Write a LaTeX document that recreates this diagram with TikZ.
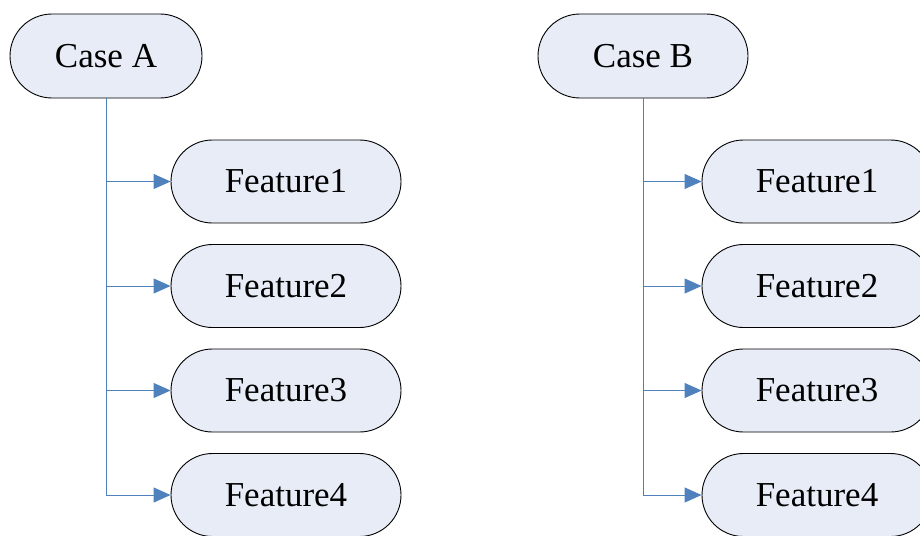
\documentclass[tikz,border=0pt]{standalone}
\usepackage{fontspec}
\setmainfont{Liberation Serif}
\usetikzlibrary{shapes.misc,arrows.meta}
\definecolor{boxfill}{RGB}{231,236,247}
\definecolor{linkblue}{RGB}{79,129,189}
\begin{document}
\begin{tikzpicture}[x=1pt,y=-1pt,
  basebox/.style={rounded rectangle, draw=black, line width=0.9pt, fill=boxfill,
    inner sep=0pt, font=\fontsize{35}{42}\selectfont},
  casebox/.style={basebox, minimum height=84pt},
  featbox/.style={basebox, minimum width=230pt, minimum height=83pt},
  link/.style={draw=linkblue, line width=1pt},
  arr/.style={link, -{Triangle[length=17pt,width=15pt]}}]
\useasboundingbox (0,0) rectangle (920,535);
\clip (0,0) rectangle (920,535);
% Case A
\node[casebox, minimum width=192pt] (caseA) at (106,56) {Case A};
\node[featbox] (fA1) at (286,181.5) {Feature1};
\node[featbox] (fA2) at (286,286) {Feature2};
\node[featbox] (fA3) at (286,390.5) {Feature3};
\node[featbox] (fA4) at (286,495) {Feature4};
% Case B
\node[casebox, minimum width=210pt] (caseB) at (643,56) {Case B};
\node[featbox] (fB1) at (817,181.5) {Feature1};
\node[featbox] (fB2) at (817,286) {Feature2};
\node[featbox] (fB3) at (817,390.5) {Feature3};
\node[featbox] (fB4) at (817,495) {Feature4};
% connectors
\draw[arr] (caseA.south) |- (fA4.west);
\draw[arr] (caseA.south |- fA1.west) -- (fA1.west);
\draw[arr] (caseA.south |- fA2.west) -- (fA2.west);
\draw[arr] (caseA.south |- fA3.west) -- (fA3.west);
\draw[arr] (caseB.south) |- (fB4.west);
\draw[arr] (caseB.south |- fB1.west) -- (fB1.west);
\draw[arr] (caseB.south |- fB2.west) -- (fB2.west);
\draw[arr] (caseB.south |- fB3.west) -- (fB3.west);
\end{tikzpicture}
\end{document}
